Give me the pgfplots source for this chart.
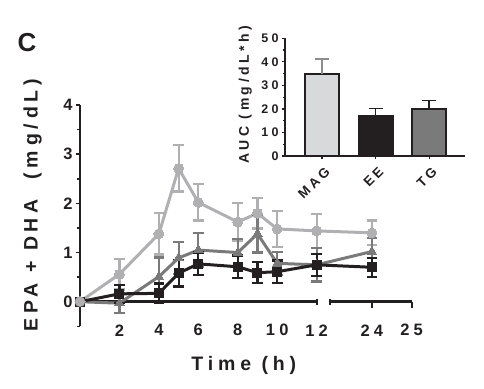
\documentclass[border=0pt]{standalone}
\usepackage{pgfplots}
\pgfplotsset{compat=1.18}
\usepackage{fontspec}
\setmainfont{Liberation Sans}[UprightFont=* Bold, BoldFont=* Bold, LetterSpace=25]
\definecolor{magc}{RGB}{176,176,178}
\definecolor{magbar}{RGB}{216,217,219}
\definecolor{eec}{RGB}{35,31,32}
\definecolor{tgc}{RGB}{122,122,122}
\begin{document}
\begin{tikzpicture}[x=1pt,y=1pt]
\useasboundingbox (0,0) rectangle (484,388);
\node[font=\fontsize{26}{28}\selectfont\bfseries, text=eec] at (27,345) {C};
\begin{axis}[
  at={(80pt,61.7pt)}, anchor=south west, scale only axis,
  width=331.7pt, height=221.3pt,
  xmin=0, xmax=16.82, ymin=-0.5, ymax=4,
  clip=false,
  axis y line*=left, axis x line*=bottom,
  x axis line style={draw=none}, y axis line style={line width=2.5pt, draw=eec},
  xtick={2,4,6,8,10,12,14.8,16.82}, xticklabels={2,4,6,8,10,12,24,25},
  xtick style={draw=none},
  xticklabel style={anchor=center, yshift=0pt, font=\fontsize{16.5}{18}\selectfont\bfseries, text=eec},
  ytick={0,1,2,3,4}, minor ytick={-0.5,0.5,1.5,2.5,3.5},
  yticklabel style={font=\fontsize{16.5}{18}\selectfont\bfseries, text=eec},
  /pgf/number format/assume math mode=true,
  ytick style={line width=1.5pt, draw=eec},
  tick align=outside, major tick length=4pt, minor tick length=3pt,
  xlabel={Time (h)},
  xlabel style={at={(axis description cs:0.494,-0.179)}, anchor=center, font=\fontsize{19.5}{21}\selectfont\bfseries, text=eec},
  ylabel={EPA + DHA\quad(mg/dL)},
  ylabel style={at={(axis description cs:-0.143,0.548)}, anchor=center, font=\fontsize{19.5}{21}\selectfont\bfseries, text=eec},
]
\draw[line width=2.5pt, eec] (axis cs:0,0) -- (axis cs:12,0);
\draw[line width=2pt, eec] (axis cs:12,0) ++(0pt,-3pt) -- ++(0pt,6pt);
\draw[line width=2.5pt, eec] (axis cs:12.68,0) -- (axis cs:16.82,0);
\draw[line width=2pt, eec] (axis cs:12.68,0) ++(0pt,-3pt) -- ++(0pt,6pt);
\draw[line width=2pt, eec] (axis cs:14.8,0) -- ++(0pt,-6pt);
\draw[line width=2pt, eec] (axis cs:16.82,0) -- ++(0pt,-6pt);
% MAG
\addplot[magc, line width=3pt, mark=*, mark size=5pt, mark options={fill=magc, draw=magc, line width=0pt},
  error bars/.cd, y dir=both, y explicit,
  error bar style={line width=2.2pt, magc},
  error mark options={rotate=90, mark size=5.3pt, line width=2.2pt, magc}]
coordinates {
(0,0) +- (0,0)
(2,0.56) +- (0,0.31)
(4,1.38) +- (0,0.42)
(5,2.71) +- (0,0.47)
(6,2.02) +- (0,0.37)
(8,1.62) +- (0,0.39)
(9,1.80) +- (0,0.31)
(10,1.48) +- (0,0.37)
(12,1.44) +- (0,0.34)
(14.8,1.40) +- (0,0.25)
};
% TG
\addplot[tgc, line width=3pt, mark=triangle*, mark size=5.5pt, mark options={fill=tgc, draw=tgc, line width=0pt},
  error bars/.cd, y dir=both, y explicit,
  error bar style={line width=2.2pt, tgc},
  error mark options={rotate=90, mark size=5.3pt, line width=2.2pt, tgc}]
coordinates {
(0,0) +- (0,0)
(2,-0.03) +- (0,0.2)
(4,0.51) +- (0,0.39)
(5,0.89) +- (0,0.33)
(6,1.05) +- (0,0.35)
(8,1.00) +- (0,0.27)
(9,1.38) +- (0,0.38)
(10,0.78) +- (0,0.23)
(12,0.75) +- (0,0.34)
(14.8,1.02) +- (0,0.27)
};
% EE
\addplot[eec, line width=3pt, mark=square*, mark size=4.5pt, mark options={fill=eec, draw=eec, line width=0pt},
  error bars/.cd, y dir=both, y explicit,
  error bar style={line width=2.2pt, eec},
  error mark options={rotate=90, mark size=5.3pt, line width=2.2pt, eec}]
coordinates {
(0,0) +- (0,0)
(2,0.16) +- (0,0.18)
(4,0.17) +- (0,0.20)
(5,0.58) +- (0,0.27)
(6,0.77) +- (0,0.23)
(8,0.71) +- (0,0.23)
(9,0.59) +- (0,0.21)
(10,0.61) +- (0,0.23)
(12,0.75) +- (0,0.22)
(14.8,0.70) +- (0,0.19)
};
\addplot[magc, only marks, mark=*, mark size=5pt, mark options={fill=magc, draw=magc}] coordinates {(0,0)};
\end{axis}
\begin{axis}[
  at={(285pt,232pt)}, anchor=south west, scale only axis,
  width=180pt, height=117.7pt,
  xmin=-0.69, xmax=2.67, ymin=0, ymax=50,
  axis y line*=left, axis x line*=bottom,
  axis line style={line width=2pt, draw=eec},
  xtick={0,1,2}, xticklabels={MAG,EE,TG},
  xticklabel style={rotate=45, anchor=north east, yshift=-3pt, font=\fontsize{13.5}{15}\selectfont\bfseries, text=eec},
  ytick={0,10,20,30,40,50}, minor ytick={5,15,25,35,45},
  yticklabel style={font=\fontsize{12.5}{14}\selectfont\bfseries, text=eec},
  /pgf/number format/assume math mode=true,
  tick style={line width=1.2pt, draw=eec},
  tick align=outside, major tick length=3pt, minor tick length=2pt,
  ylabel={AUC (mg/dL*h)},
  ylabel style={at={(axis description cs:-0.22,0.52)}, anchor=center, font=\fontsize{14}{16}\selectfont\bfseries, text=eec},
]
\addplot[ybar, bar width=34pt, bar shift=0pt, fill=magbar, draw=eec, line width=2pt,
  error bars/.cd, y dir=plus, y explicit,
  error bar style={line width=1.5pt, magc!80!black},
  error mark options={rotate=90, mark size=7pt, line width=1.5pt, magc!80!black}]
coordinates {(0,34.7) +- (0,6.5)};
\addplot[ybar, bar width=34pt, bar shift=0pt, fill=eec, draw=eec, line width=2pt,
  error bars/.cd, y dir=plus, y explicit,
  error bar style={line width=1.5pt, eec},
  error mark options={rotate=90, mark size=7pt, line width=1.5pt, eec}]
coordinates {(1,17.2) +- (0,3.0)};
\addplot[ybar, bar width=34pt, bar shift=0pt, fill=tgc, draw=eec, line width=2pt,
  error bars/.cd, y dir=plus, y explicit,
  error bar style={line width=1.5pt, eec},
  error mark options={rotate=90, mark size=7pt, line width=1.5pt, eec}]
coordinates {(2,20.0) +- (0,3.6)};
\end{axis}
\end{tikzpicture}
\end{document}
